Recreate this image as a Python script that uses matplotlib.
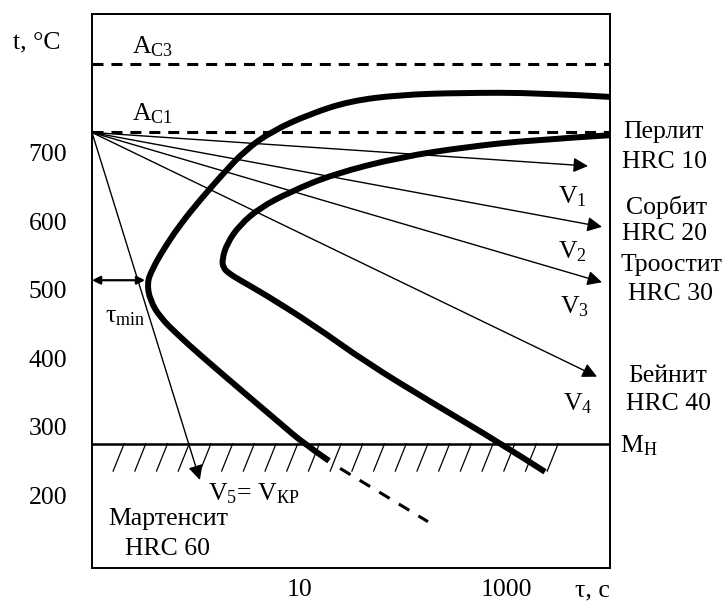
import numpy as np
import matplotlib
matplotlib.use("Agg")
import matplotlib.pyplot as plt
from matplotlib.path import Path
from matplotlib.patches import PathPatch

plt.rcParams["font.family"] = ["Liberation Serif", "DejaVu Serif"]
plt.rcParams["mathtext.fontset"] = "custom"
plt.rcParams["mathtext.rm"] = "Liberation Serif"
plt.rcParams["mathtext.it"] = "Liberation Serif:italic"

# critical temperatures, deg C
t_ac3 = 830
t_ac1 = 730
t_mn = 275

# start of transformation curve (time s, temperature C)
start_time = [10000, 2110, 357, 94, 30.9, 12.7, 5.46, 3.0, 1.8, 1.1, 0.706, 0.484,
              0.379, 0.34, 0.363, 0.453, 0.676, 1.1, 3.13, 6.53, 10.9, 19.4]
start_temp = [782, 788, 788, 785, 776, 757, 732, 704, 668, 631, 595, 558,
              529, 510, 485, 460, 434, 405, 346, 305, 276, 250]

# end of transformation curve
end_time = [10000, 1807, 417, 94, 21.2, 8.15, 4.19, 2.68, 2.01, 1.80, 1.85, 2.1,
            2.68, 4.47, 13.6, 45.1, 196, 867, 2358]
end_temp = [726, 719, 709, 694, 669, 643, 620, 595, 568, 544, 532, 524,
            514, 495, 449, 393, 334, 276, 234]

# dashed continuation of the start curve below Mn
dash_time = [24.8, 175]
dash_temp = [239, 161]

# cooling rays from the start point
ray_start = (0.1, 730)
ray_time = [6135, 8375, 8375, 7498, 1.10]
ray_temp = [681, 592, 511, 373, 222]

tau_min = 0.325
tau_temp = 514

y_ticks = [700, 600, 500, 400, 300, 200]
x_ticks = [10, 1000]
x_ticklabels = ["10", "1000"]

W, H = 724, 602
fig = plt.figure(figsize=(W / 100, H / 100), dpi=100)
ax = fig.add_axes([92 / W, (H - 568) / H, 518 / W, 554 / H])
ax.set_xscale("log")
ax.set_xlim(0.1, 10000)
ax.set_ylim(93.3, 903.2)
for s in ax.spines.values():
    s.set_linewidth(1.4)

ax.set_xticks(x_ticks)
ax.set_xticklabels(x_ticklabels)
ax.xaxis.set_minor_locator(matplotlib.ticker.NullLocator())
ax.set_yticks(y_ticks)
ax.tick_params(axis="both", length=0, labelsize=18.5)
ax.tick_params(axis="x", pad=8)
ax.tick_params(axis="y", pad=18)

# critical lines
ax.axhline(t_ac3, color="black", lw=2.2, dashes=(3.6, 2.6))
ax.axhline(t_ac1, color="black", lw=2.2, dashes=(3.6, 2.6))
ax.axhline(t_mn, color="black", lw=1.8)

# hatching below Mn
tops = 10 ** np.linspace(-0.69, 3.5, 21)
for x in tops:
    ax.plot([x, x / 10 ** 0.106], [t_mn, t_mn - 40], color="black", lw=0.9)


def smooth_curve(xs, ys):
    # quadratic b-spline through the read points (midpoints taken in log-x)
    verts = [(xs[0], ys[0])]
    codes = [Path.MOVETO]
    n = len(xs)
    for i in range(1, n - 1):
        if i == n - 2:
            end = (xs[-1], ys[-1])
        else:
            end = (np.sqrt(xs[i] * xs[i + 1]), (ys[i] + ys[i + 1]) / 2)
        verts += [(xs[i], ys[i]), end]
        codes += [Path.CURVE3, Path.CURVE3]
    return PathPatch(Path(verts, codes), fill=False, ec="black", lw=4.3,
                     joinstyle="round", capstyle="butt")


# C-curves
ax.add_patch(smooth_curve(start_time, start_temp))
ax.add_patch(smooth_curve(end_time, end_temp))
ax.plot(dash_time, dash_temp, color="black", lw=2.2, dashes=(4, 3.5))

# cooling rays
for xt, yt in zip(ray_time, ray_temp):
    ax.annotate("", xy=(xt, yt), xytext=ray_start,
                arrowprops=dict(arrowstyle="-|>", color="black", lw=1.0,
                                mutation_scale=22, shrinkA=0, shrinkB=0))

# tau_min
ax.annotate("", xy=(tau_min, tau_temp), xytext=(0.1, tau_temp),
            arrowprops=dict(arrowstyle="<|-|>", color="black", lw=1.6,
                            mutation_scale=12, shrinkA=0, shrinkB=0))


def label(px, py, s, ha="left", size=18.5):
    fig.text(px / W, 1 - py / H, s, ha=ha, va="baseline", fontsize=size)


label(13, 48, "t, °C")
label(132, 53, r"$\mathrm{A_{C3}}$")
label(132, 120, r"$\mathrm{A_{C1}}$")
label(105, 322, r"$\mathrm{τ_{min}}$")

label(664, 138, "Перлит", ha="center")
label(665, 168, "HRC 10", ha="center")
label(667, 214, "Сорбит", ha="center")
label(665, 240, "HRC 20", ha="center")
label(672, 271, "Троостит", ha="center")
label(670, 300, "HRC 30", ha="center")
label(668, 382, "Бейнит", ha="center")
label(668, 410, "HRC 40", ha="center")
label(620, 452, r"$\mathrm{M_{Н}}$")

label(558, 203, r"$\mathrm{V_{1}}$")
label(558, 258, r"$\mathrm{V_{2}}$")
label(560, 313, r"$\mathrm{V_{3}}$")
label(563, 410, r"$\mathrm{V_{4}}$")
label(208, 500, r"$\mathrm{V_{5}}$= $\mathrm{V_{КР}}$")
label(108, 525, "Мартенсит")
label(125, 555, "HRC 60")
label(575, 596, "τ, с")

fig.savefig("out.png", dpi=100)
